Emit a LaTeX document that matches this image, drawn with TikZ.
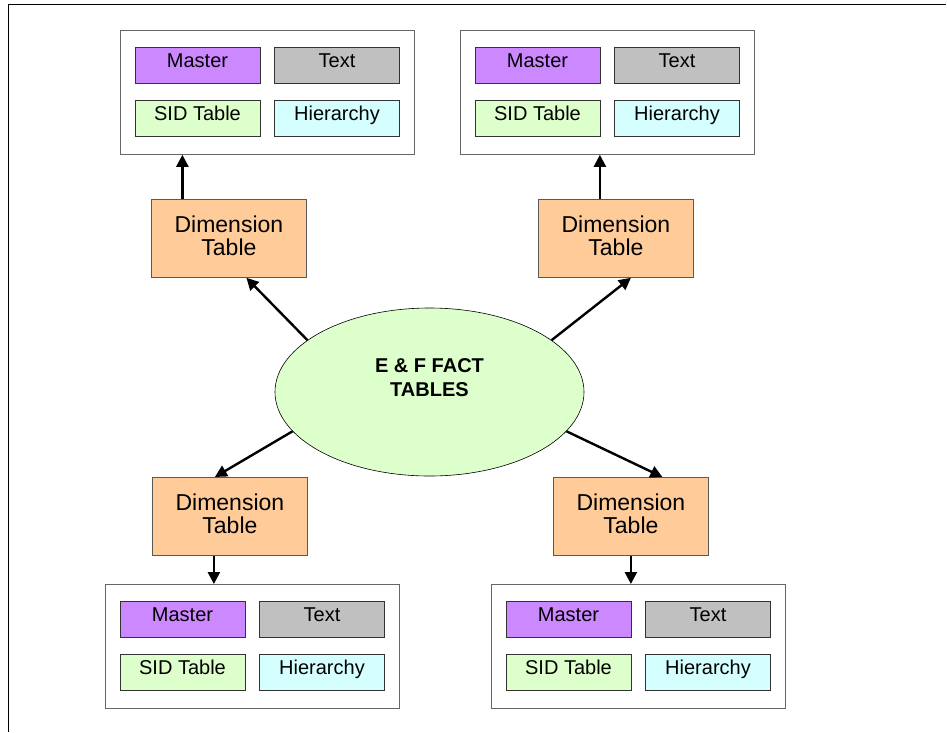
\documentclass[tikz,border=0pt]{standalone}
\usepackage{fontspec}
\setmainfont{Liberation Sans}
\usetikzlibrary{arrows.meta,shapes.geometric,calc}

\definecolor{masterfill}{HTML}{CC88FF}
\definecolor{textfill}{HTML}{C0C0C0}
\definecolor{sidfill}{HTML}{DDFFCC}
\definecolor{hierfill}{HTML}{D5FFFF}
\definecolor{dimfill}{HTML}{FFCC99}
\definecolor{factfill}{HTML}{DDFFCC}

% One group of four tables: #1 name, (#2,#3) top-left corner
\newcommand\tablegroup[3]{%
  \node[groupbox] (#1) at (#2,#3) {};
  \node[cell, fill=masterfill] (#1-master) at ($(#1.north west)+(77.5,35.5)$) {Master};
  \node[cell, fill=textfill]   (#1-text)   at ($(#1.north west)+(217,35.5)$) {Text};
  \node[cell, fill=sidfill]    (#1-sid)    at ($(#1.north west)+(77.5,88.5)$) {SID Table};
  \node[cell, fill=hierfill]   (#1-hier)   at ($(#1.north west)+(217,88.5)$) {Hierarchy};
}

\begin{document}
\begin{tikzpicture}[x=1pt,y=-1pt,
  groupbox/.style={draw=black!60, line width=0.8pt, fill=white,
    minimum width=294pt, minimum height=124pt, inner sep=0pt, anchor=north west},
  cell/.style={draw=black!80, line width=0.8pt, minimum width=125pt,
    minimum height=36pt, inner sep=0pt, text height=14pt, text depth=10pt,
    font=\fontsize{20}{24}\selectfont},
  dimbox/.style={draw=black!65, line width=0.8pt, fill=dimfill,
    minimum width=155pt, minimum height=78pt, inner sep=0pt, align=center,
    text depth=5pt, font=\fontsize{23}{23.5}\selectfont, anchor=north west},
  factnode/.style={ellipse, draw, line width=0.6pt, fill=factfill,
    minimum width=309pt, minimum height=168pt, inner sep=0pt, align=center,
    text depth=28pt, font=\bfseries\fontsize{20}{24}\selectfont},
  link/.style={line width=2.4pt, -{Triangle[length=12pt,width=12pt]}},
]
\useasboundingbox (0,0) rectangle (947,732);

% page frame
\draw[line width=1pt] (8,732) -- (8,4) -- (946,4);

% table groups
\tablegroup{tl}{120}{30}
\tablegroup{tr}{460}{30}
\tablegroup{bl}{105}{584}
\tablegroup{br}{491}{584}

% dimension tables
\node[dimbox] (dtl) at (151,199) {Dimension\\Table};
\node[dimbox] (dtr) at (538,199) {Dimension\\Table};
\node[dimbox] (dbl) at (152,477) {Dimension\\Table};
\node[dimbox] (dbr) at (553,477) {Dimension\\Table};

% fact tables
\node[factnode] (fact) at (429.5,392) {E \& F FACT\\TABLES};

% fact -> dimension
\draw[link] (fact.157) -- ([xshift=17.5pt]dtl.south);
\draw[link] (fact.23) -- ([xshift=15pt]dtr.south);
\draw[link] (fact.196) -- ([xshift=-15pt]dbl.north);
\draw[link] (fact.344.5) -- ([xshift=31.5pt]dbr.north);

% dimension -> table groups
\draw[link] ([xshift=-46.5pt]dtl.north) -- ([xshift=-46.5pt]dtl.north |- tl.south);
\draw[link] ([xshift=-16pt]dtr.north) -- ([xshift=-16pt]dtr.north |- tr.south);
\draw[link] ([xshift=-16pt]dbl.south) -- ([xshift=-16pt]dbl.south |- bl.north);
\draw[link] (dbr.south) -- (dbr.south |- br.north);
\end{tikzpicture}
\end{document}
